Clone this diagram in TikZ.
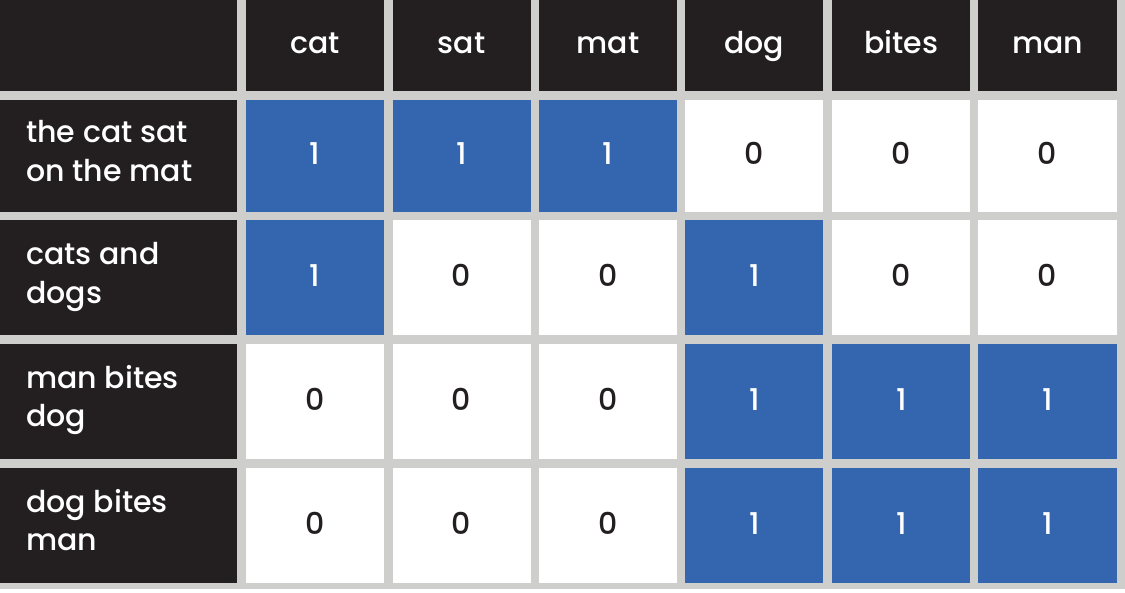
\documentclass[tikz,border=0pt]{standalone}
\usepackage{fontspec}
\setmainfont{Poppins Medium}
\definecolor{cellblack}{HTML}{231F20}
\definecolor{cellblue}{HTML}{3466B0}
\definecolor{gridgray}{HTML}{CECECC}
\newcommand\mycell[6]{%
  \pgfmathsetmacro\cw{#4-#2}\pgfmathsetmacro\ch{#5-#3}%
  \node[cellbox, fill=#6, minimum width=\cw pt, minimum height=\ch pt] (#1) at ({(#2+#4)/2},{(#3+#5)/2}) {};}
\begin{document}
\begin{tikzpicture}[x=1pt,y=-1pt,
  cellbox/.style={inner sep=0pt, outer sep=0pt, draw=none, rectangle},
  labeltext/.style={anchor=base west, inner sep=0pt, text=white, font=\fontsize{30}{36}\selectfont},
  headtext/.style={anchor=base, inner sep=0pt, text=white, font=\fontsize{30}{36}\selectfont},
  valtext/.style={anchor=base, inner sep=0pt, font=\fontsize{30}{36}\selectfont}]
\fill[white] (0,0) rectangle (1125,592);
\fill[gridgray] (0,0) rectangle (1125,588.5);
\useasboundingbox (0,0) rectangle (1125,592);
% header row
\mycell{h0}{0}{0}{237}{91}{cellblack}
\mycell{h1}{246}{0}{384}{91}{cellblack}
\mycell{h2}{392.5}{0}{530.7}{91}{cellblack}
\mycell{h3}{539}{0}{676.7}{91}{cellblack}
\mycell{h4}{685.3}{0}{823.3}{91}{cellblack}
\mycell{h5}{832.3}{0}{970.3}{91}{cellblack}
\mycell{h6}{978.3}{0}{1116.7}{91}{cellblack}
\node[headtext] (h1t) at ([yshift=-8pt]h1.center) {cat};
\node[headtext] (h2t) at ([yshift=-8pt]h2.center) {sat};
\node[headtext] (h3t) at ([yshift=-8pt]h3.center) {mat};
\node[headtext] (h4t) at ([yshift=-8pt]h4.center) {dog};
\node[headtext] (h5t) at ([yshift=-8pt]h5.center) {bites};
\node[headtext] (h6t) at ([yshift=-8pt]h6.center) {man};
% row labels
\mycell{r1}{0}{100}{237}{211.5}{cellblack}
\mycell{r2}{0}{220}{237}{335}{cellblack}
\mycell{r3}{0}{343.5}{237}{459.3}{cellblack}
\mycell{r4}{0}{467.7}{237}{583}{cellblack}
\node[labeltext] (r1a) at ([xshift=26pt,yshift=13pt]r1.west) {the cat sat};
\node[labeltext] (r1b) at ([xshift=26pt,yshift=-25.5pt]r1.west) {on the mat};
\node[labeltext] (r2a) at ([xshift=26pt,yshift=13pt]r2.west) {cats and};
\node[labeltext] (r2b) at ([xshift=26pt,yshift=-25.5pt]r2.west) {dogs};
\node[labeltext] (r3a) at ([xshift=26pt,yshift=13pt]r3.west) {man bites};
\node[labeltext] (r3b) at ([xshift=26pt,yshift=-25.5pt]r3.west) {dog};
\node[labeltext] (r4a) at ([xshift=26pt,yshift=13pt]r4.west) {dog bites};
\node[labeltext] (r4b) at ([xshift=26pt,yshift=-25.5pt]r4.west) {man};
% value cells
\foreach \r/\ya/\yb/\vals in {1/100/211.5/{1,1,1,0,0,0}, 2/220/335/{1,0,0,1,0,0}, 3/343.5/459.3/{0,0,0,1,1,1}, 4/467.7/583/{0,0,0,1,1,1}}{
  \foreach \v [count=\c] in \vals {
    \pgfmathsetmacro\xl{{0,246,392.5,539,685.3,832.3,978.3}[\c]}
    \pgfmathsetmacro\xr{{0,384,530.7,676.7,823.3,970.3,1116.7}[\c]}
    \ifnum\v=1
      \mycell{v\r\c}{\xl}{\ya}{\xr}{\yb}{cellblue}
      \node[valtext, text=white] (v\r\c t) at ([yshift=-9pt]v\r\c.center) {1};
    \else
      \mycell{v\r\c}{\xl}{\ya}{\xr}{\yb}{white}
      \node[valtext, text=cellblack] (v\r\c t) at ([yshift=-9pt]v\r\c.center) {0};
    \fi
  }
}
\end{tikzpicture}
\end{document}
